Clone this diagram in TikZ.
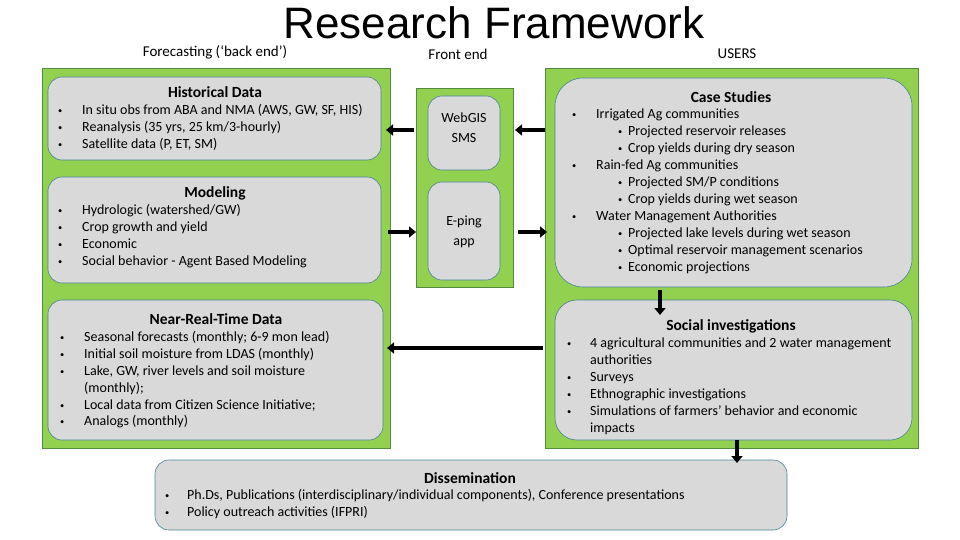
\documentclass[tikz,border=0pt]{standalone}
\usepackage{fontspec}
\setmainfont{Carlito}
\newfontfamily\titlefont{Liberation Sans}
\usetikzlibrary{arrows.meta}
\definecolor{grn}{RGB}{146,208,80}
\definecolor{grnb}{RGB}{80,140,60}
\definecolor{gbox}{RGB}{217,217,217}
\definecolor{gbord}{RGB}{70,130,150}
\newcommand{\bl}{\makebox[24pt][l]{\raisebox{1pt}{\scalebox{0.6}{\textbullet}}}}
\newcommand{\blb}{\hspace*{46pt}\makebox[10pt][l]{\raisebox{1pt}{\scalebox{0.6}{\textbullet}}}}
\tikzset{
 panel/.style={fill=grn,draw=grnb,line width=0.8pt},
 gb/.style={fill=gbox,draw=gbord,line width=0.6pt,rounded corners=14pt},
 hd/.style={font=\bfseries\fontsize{15.5}{17}\selectfont,inner sep=0pt},
 tx/.style={font=\fontsize{14}{16.9}\selectfont,align=left,anchor=north west,inner sep=0pt},
 arr/.style={line width=3.5pt,-{Triangle[length=7pt,width=11pt]}},
}
\begin{document}
\begin{tikzpicture}[x=1pt,y=-1pt]
\useasboundingbox (0,0) rectangle (960,540);
\node[font=\titlefont\fontsize{44}{44}\selectfont,inner sep=0pt] (title) at (494,23) {Research Framework};
\node[font=\fontsize{15}{17}\selectfont] (fc) at (215,52) {Forecasting (‘back end’)};
\node[font=\fontsize{15}{17}\selectfont] (fe) at (458,54) {Front end};
\node[font=\fontsize{15}{17}\selectfont] (us) at (737,54) {USERS};
% panels
\draw[panel] (42,68) rectangle (390,448);
\draw[panel] (416,88) rectangle (513,287);
\draw[panel] (545,68) rectangle (918,448);
% boxes
\draw[gb] (48,77) rectangle (381,160);
\draw[gb] (48,177) rectangle (381,283);
\draw[gb] (48,300) rectangle (383,440);
\draw[gb] (428,96) rectangle (500,170);
\draw[gb] (428,182) rectangle (500,280);
\draw[gb,rounded corners=28pt] (555,78) rectangle (912,287);
\draw[gb,rounded corners=22pt] (555,300) rectangle (912,440);
\draw[gb] (155,460) rectangle (787,530);
% headings
\node[hd] (h1) at (215,92) {Historical Data};
\node[hd] (h2) at (215,193) {Modeling};
\node[hd] (h3) at (216,319) {Near-Real-Time Data};
\node[hd] (h4) at (731,97) {Case Studies};
\node[hd] (h5) at (731,326) {Social investigations};
\node[hd] (h6) at (470,478) {Dissemination};
\node[font=\fontsize{14}{20}\selectfont,align=center] (web) at (464,128) {WebGIS\\SMS};
\node[font=\fontsize{14}{20}\selectfont,align=center] (ep) at (464,232) {E-ping\\app};
% texts
\node[tx] (t1) at (58,104) {\bl In situ obs from ABA and NMA (AWS, GW, SF, HIS)\\\bl Reanalysis (35 yrs, 25 km/3-hourly)\\\bl Satellite data (P, ET, SM)};
\node[tx] (t2) at (58,204) {\bl Hydrologic (watershed/GW)\\\bl Crop growth and yield\\\bl Economic\\\bl Social behavior - Agent Based Modeling};
\node[tx] (t3) at (60,331) {\bl Seasonal forecasts (monthly; 6-9 mon lead)\\\bl Initial soil moisture from LDAS (monthly)\\\bl Lake, GW, river levels and soil moisture\\\hspace*{24pt}(monthly);\\\bl Local data from Citizen Science Initiative;\\\bl Analogs (monthly)};
\node[tx] (t4) at (572,109) {\bl Irrigated Ag communities\\\blb Projected reservoir releases\\\blb Crop yields during dry season\\\bl Rain-fed Ag communities\\\blb Projected SM/P conditions\\\blb Crop yields during wet season\\\bl Water Management Authorities\\\blb Projected lake levels during wet season\\\blb Optimal reservoir management scenarios\\\blb Economic projections};
\node[tx] (t5) at (567,338) {\makebox[23pt][l]{\raisebox{1pt}{\scalebox{0.6}{\textbullet}}}4 agricultural communities and 2 water management\\\hspace*{23pt}authorities\\\makebox[23pt][l]{\raisebox{1pt}{\scalebox{0.6}{\textbullet}}}Surveys\\\makebox[23pt][l]{\raisebox{1pt}{\scalebox{0.6}{\textbullet}}}Ethnographic investigations\\\makebox[23pt][l]{\raisebox{1pt}{\scalebox{0.6}{\textbullet}}}Simulations of farmers’ behavior and economic\\\hspace*{23pt}impacts};
\node[tx] (t6) at (165,489) {\makebox[22pt][l]{\raisebox{1pt}{\scalebox{0.6}{\textbullet}}}Ph.Ds, Publications (interdisciplinary/individual components), Conference presentations\\\makebox[22pt][l]{\raisebox{1pt}{\scalebox{0.6}{\textbullet}}}Policy outreach activities (IFPRI)};
% arrows
\coordinate (a1s) at (414,130); \coordinate (a1e) at (386,130);
\coordinate (a2s) at (545,130); \coordinate (a2e) at (515,130);
\coordinate (a3s) at (388,232); \coordinate (a3e) at (416,232);
\coordinate (a4s) at (518,232); \coordinate (a4e) at (547,232);
\coordinate (a5s) at (543,348); \coordinate (a5e) at (387,348);
\coordinate (a6s) at (660,290); \coordinate (a6e) at (660,315);
\coordinate (a7s) at (737,440); \coordinate (a7e) at (737,463);
\draw[arr] (a1s) -- (a1e);
\draw[arr] (a2s) -- (a2e);
\draw[arr] (a3s) -- (a3e);
\draw[arr] (a4s) -- (a4e);
\draw[arr] (a5s) -- (a5e);
\draw[arr] (a6s) -- (a6e);
\draw[arr] (a7s) -- (a7e);
\end{tikzpicture}
\end{document}
